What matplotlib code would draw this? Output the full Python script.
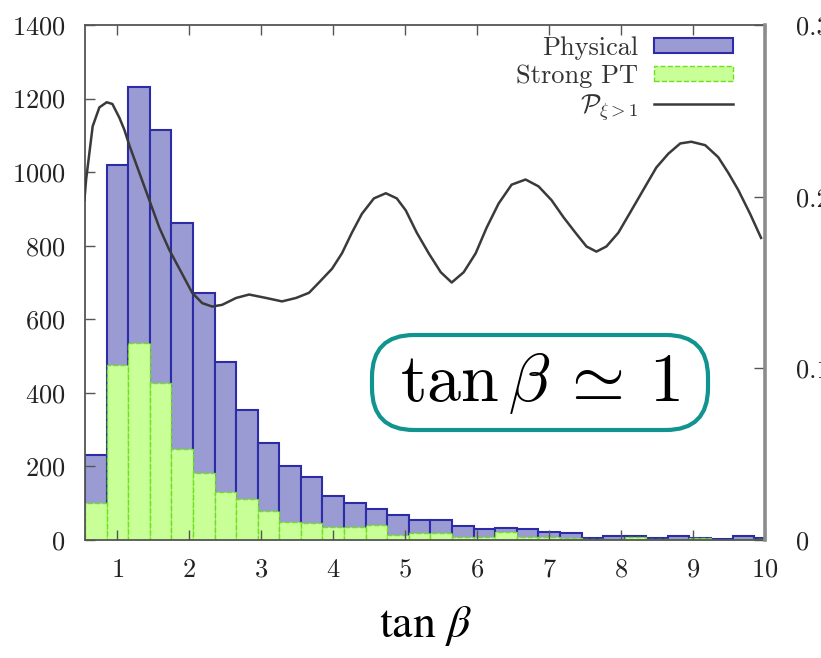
import matplotlib
matplotlib.use('Agg')
import matplotlib.pyplot as plt
from matplotlib.patches import Patch, FancyBboxPatch

plt.rcParams['font.family'] = ['cmr10', 'DejaVu Serif']
plt.rcParams['mathtext.fontset'] = 'cm'
plt.rcParams['axes.formatter.use_mathtext'] = True

# histogram bins in tan(beta), width 0.3
tan_beta = [0.7, 1.0, 1.3, 1.6, 1.9, 2.2, 2.5, 2.8, 3.1, 3.4, 3.7, 4.0, 4.3, 4.6, 4.9, 5.2,
            5.5, 5.8, 6.1, 6.4, 6.7, 7.0, 7.3, 7.6, 7.9, 8.2, 8.5, 8.8, 9.1, 9.4, 9.7, 10.0]
physical = [231, 1019, 1232, 1114, 862, 671, 484, 353, 263, 201, 172, 120, 100, 84, 68, 55,
            54, 39, 30, 34, 30, 21, 18, 6, 11, 11, 6, 11, 6, 2, 11, 5]
strong_pt = [101, 476, 535, 427, 247, 183, 131, 111, 79, 50, 46, 35, 35, 41, 14, 19,
             19, 9, 8, 23, 8, 8, 6, 3, 3, 8, 3, 3, 6, 0, 3, 2]
bin_width = 0.3

# probability curve (right axis)
p_x = [0.542, 0.566, 0.657, 0.750, 0.852, 0.931, 1.028, 1.097, 1.166, 1.305, 1.444, 1.583,
       1.722, 1.888, 2.040, 2.179, 2.318, 2.456, 2.650, 2.831, 3.067, 3.288, 3.483, 3.663,
       3.802, 3.983, 4.121, 4.259, 4.398, 4.565, 4.731, 4.883, 5.008, 5.161, 5.327, 5.494,
       5.646, 5.813, 5.979, 6.132, 6.298, 6.479, 6.673, 6.853, 7.033, 7.200, 7.366, 7.519,
       7.657, 7.796, 7.962, 8.143, 8.337, 8.490, 8.656, 8.822, 8.975, 9.169, 9.350, 9.488,
       9.627, 9.793, 9.945]
p_y = [0.198, 0.210, 0.241, 0.252, 0.255, 0.254, 0.246, 0.239, 0.230, 0.214, 0.198, 0.182,
       0.169, 0.156, 0.144, 0.138, 0.136, 0.137, 0.141, 0.143, 0.141, 0.139, 0.141, 0.144,
       0.150, 0.158, 0.167, 0.179, 0.190, 0.199, 0.202, 0.199, 0.192, 0.179, 0.167, 0.156,
       0.150, 0.156, 0.167, 0.182, 0.196, 0.207, 0.210, 0.206, 0.198, 0.188, 0.179, 0.171,
       0.168, 0.171, 0.179, 0.192, 0.206, 0.217, 0.225, 0.231, 0.232, 0.230, 0.223, 0.214,
       0.204, 0.190, 0.176]

blue_fill = '#9b9bd4'
blue_edge = '#2c2ca6'
green_fill = '#c8ff96'
green_edge = '#6fe01c'

fig = plt.figure(figsize=(8.21, 6.58), dpi=100)
ax = fig.add_axes([0.1035, 0.1793, 0.8283, 0.7827])

ax.bar(tan_beta, physical, width=bin_width, color=blue_fill, edgecolor=blue_edge, linewidth=1.5)
ax.bar(tan_beta, strong_pt, width=bin_width, color=green_fill, edgecolor=green_edge,
       linewidth=1.0, linestyle='--')

ax.set_xlim(0.55, 10)
ax.set_ylim(0, 1400)
ax.set_xticks(range(1, 11))
ax.set_yticks(range(0, 1401, 200))
ax.tick_params(axis='both', direction='in', length=7, width=1.0, labelsize=19,
               colors='#555555', labelcolor='#222222')
ax.tick_params(axis='x', top=True, pad=13)
ax.tick_params(axis='y', pad=14)
for s in ['left', 'top', 'bottom']:
    ax.spines[s].set_color('#555555')
    ax.spines[s].set_linewidth(1.3)
ax.spines['right'].set_visible(False)

ax2 = ax.twinx()
line, = ax2.plot(p_x, p_y, color='#3a3a3a', linewidth=1.8)
ax2.set_ylim(0, 0.3)
ax2.set_yticks([0, 0.1, 0.2, 0.3])
ax2.set_yticklabels(['0', '0.1', '0.2', '0.3'])
ax2.tick_params(axis='y', direction='in', length=8, width=1.0, labelsize=19, pad=22,
                colors='#555555', labelcolor='#222222')
for s in ['left', 'top', 'bottom']:
    ax2.spines[s].set_visible(False)
ax2.spines['right'].set_color('#8c8c8c')
ax2.spines['right'].set_linewidth(2.6)

handles = [Patch(facecolor=blue_fill, edgecolor=blue_edge, linewidth=1.5),
           Patch(facecolor=green_fill, edgecolor=green_edge, linewidth=1.0, linestyle='--'),
           line]
labels = ['Physical', 'Strong PT', r'$\mathcal{P}_{\xi>1}$']
ax2.legend(handles, labels, loc='upper right', bbox_to_anchor=(0.953, 0.978),
           frameon=False, markerfirst=False, fontsize=19, handlelength=3.0,
           handleheight=0.5, handletextpad=0.6, labelspacing=0.15,
           borderpad=0, borderaxespad=0, labelcolor='#333333')

# rounded annotation box (inches, so corners stay round)
box = FancyBboxPatch((3.72, 2.28), 3.36, 0.95, boxstyle='round,pad=0,rounding_size=0.42',
                     transform=fig.dpi_scale_trans, facecolor='white',
                     edgecolor='#11948f', linewidth=3, zorder=5)
fig.patches.append(box)
fig.text(5.40 / 8.21, (6.58 - 3.83) / 6.58, r'$\tan\beta\:\simeq\:1$', fontsize=49,
         ha='center', va='center', zorder=6)

ax.set_xlabel(r'$\tan\,\beta$', fontsize=33, math_fontfamily='stix', labelpad=16)

fig.savefig('out.png', dpi=100)
